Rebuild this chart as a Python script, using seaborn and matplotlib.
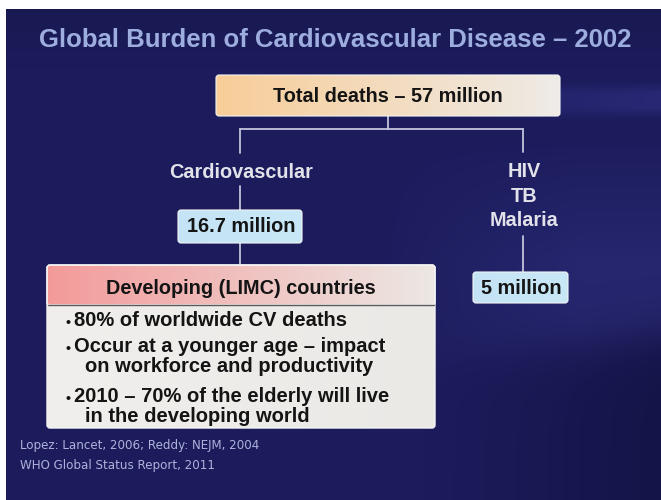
import numpy as np
import matplotlib
matplotlib.use("Agg")
import matplotlib.pyplot as plt
from matplotlib.patches import FancyBboxPatch
from matplotlib.colors import LinearSegmentedColormap
import seaborn as sns

sns.set_style("white")
plt.rcParams['font.family'] = ['Liberation Sans', 'DejaVu Sans']

# ---- content ----
title = "Global Burden of Cardiovascular Disease \u2013 2002"
total_label = "Total deaths \u2013 57 million"
branches = ["Cardiovascular", "HIV\nTB\nMalaria"]
branch_values = ["16.7 million", "5 million"]
detail_header = "Developing (LIMC) countries"
detail_bullets = [
    "80% of worldwide CV deaths",
    "Occur at a younger age \u2013 impact\non workforce and productivity",
    "2010 \u2013 70% of the elderly will live\nin the developing world",
]
footnotes = ["Lopez: Lancet, 2006; Reddy: NEJM, 2004", "WHO Global Status Report, 2011"]

W, H = 661, 500
fig = plt.figure(figsize=(6.61, 5.0), dpi=100)
fig.patch.set_facecolor("white")
ax = fig.add_axes([0, 0, 1, 1])
ax.set_xlim(0, W)
ax.set_ylim(H, 0)
ax.axis("off")

# ---- background (slide area) ----
sx0, sy0 = 6, 9
yy, xx = np.mgrid[sy0:H, sx0:W].astype(float)
img = np.ones(yy.shape + (3,)) * np.array([0.110, 0.110, 0.365])
# soft lighter band behind the top box, stronger to the right
band = np.exp(-((yy - 100) / 14.0) ** 4) * np.clip((xx - 300) / 360, 0, 1)
img += band[..., None] * np.array([0.045, 0.045, 0.09])
# lighter diagonal region on the right middle, darker below
bound = 360 - 0.12 * (xx - 440)
upper = 1 / (1 + np.exp((yy - bound) / 14.0))
reg = np.clip((xx - 380) / 200, 0, 1) * np.clip((yy - 140) / 120, 0, 1)
img += (upper * reg)[..., None] * np.array([0.04, 0.04, 0.07])
img -= ((1 - upper) * np.clip((xx - 420) / 240, 0, 1))[..., None] * np.array([0.03, 0.03, 0.08])
# slightly darker top
img *= (0.88 + 0.12 * np.clip((yy - 9) / 60, 0, 1))[..., None]
img = np.clip(img, 0, 1)
ax.imshow(img, extent=(sx0, W, H, sy0), aspect="auto", zorder=0, interpolation="bilinear")

line_kw = dict(color="#c4c4dc", lw=1.3, zorder=2)


def grad_box(x0, y0, x1, y1, c_left, c_right, radius=3, edge="#f4f4f4", lw=0.8):
    cmap = LinearSegmentedColormap.from_list("g", [c_left, c_right])
    grad = np.linspace(0, 1, 256)[None, :]
    im = ax.imshow(grad, cmap=cmap, extent=(x0, x1, y1, y0), aspect="auto", zorder=3)
    p = FancyBboxPatch((x0, y0), x1 - x0, y1 - y0,
                       boxstyle=f"round,pad=0,rounding_size={radius}",
                       fc="none", ec=edge, lw=lw, zorder=4)
    ax.add_patch(p)
    im.set_clip_path(p)
    return p


FS = 14.3
txt_kw = dict(fontweight="bold", zorder=5)

# Title
ax.text(335, 40, title, ha="center", va="center", fontsize=18.5, color="#9dadde", **txt_kw)

# Total deaths box
grad_box(216, 75, 560, 116, "#f8cd98", "#eeebe7")
ax.text(388, 96, total_label, ha="center", va="center", fontsize=FS, color="#141414", **txt_kw)

# connectors
ax.plot([388, 388], [116, 129], **line_kw)
ax.plot([240, 523], [129, 129], **line_kw)
ax.plot([240, 240], [129, 153], **line_kw)
ax.plot([523, 523], [129, 152], **line_kw)

# Branch labels
ax.text(241, 172, branches[0], ha="center", va="center", fontsize=FS, color="#e2e2ea", **txt_kw)
ax.text(524, 196, branches[1], ha="center", va="center", fontsize=FS, color="#e2e2ea",
        linespacing=1.38, **txt_kw)

ax.plot([240, 240], [186, 210], **line_kw)
ax.plot([523, 523], [236, 272], **line_kw)

# value boxes
grad_box(178, 210, 302, 243, "#c4e4f6", "#c8e8f6")
ax.text(241, 227, branch_values[0], ha="center", va="center", fontsize=FS, color="#141414", **txt_kw)
grad_box(473, 272, 568, 303, "#c4e4f6", "#c8e8f6")
ax.text(521, 288, branch_values[1], ha="center", va="center", fontsize=FS, color="#141414", **txt_kw)

ax.plot([240, 240], [243, 265], **line_kw)

# Developing countries box
grad_box(47, 265, 435, 428, "#f1efed", "#ebe9e6", lw=1.0)
grad_box(47, 265, 435, 305, "#f39a9a", "#ece8e4", lw=1.0)
ax.plot([48, 434], [305, 305], color="#5a5a5a", lw=1.0, zorder=5)
ax.text(241, 289, detail_header, ha="center", va="center", fontsize=FS, color="#141414", **txt_kw)
ys = [320, 346, 396]
for y, t in zip(ys, detail_bullets):
    lines = t.split("\n")
    ax.text(66, y + 2.5, "\u2022", ha="left", va="center", fontsize=10, color="#141414", **txt_kw)
    for k, ln in enumerate(lines):
        xs = 74 if k == 0 else 85
        ax.text(xs, y + 21 * k, ln, ha="left", va="center", fontsize=14.5, color="#141414", **txt_kw)

# Footnotes
ax.text(20, 446, footnotes[0], ha="left", va="center", fontsize=8.6, color="#aeb2da",
        family="DejaVu Sans", zorder=5)
ax.text(20, 465, footnotes[1], ha="left", va="center", fontsize=8.6, color="#aeb2da",
        family="DejaVu Sans", zorder=5)

fig.savefig("out.png", dpi=100, facecolor=fig.get_facecolor())
